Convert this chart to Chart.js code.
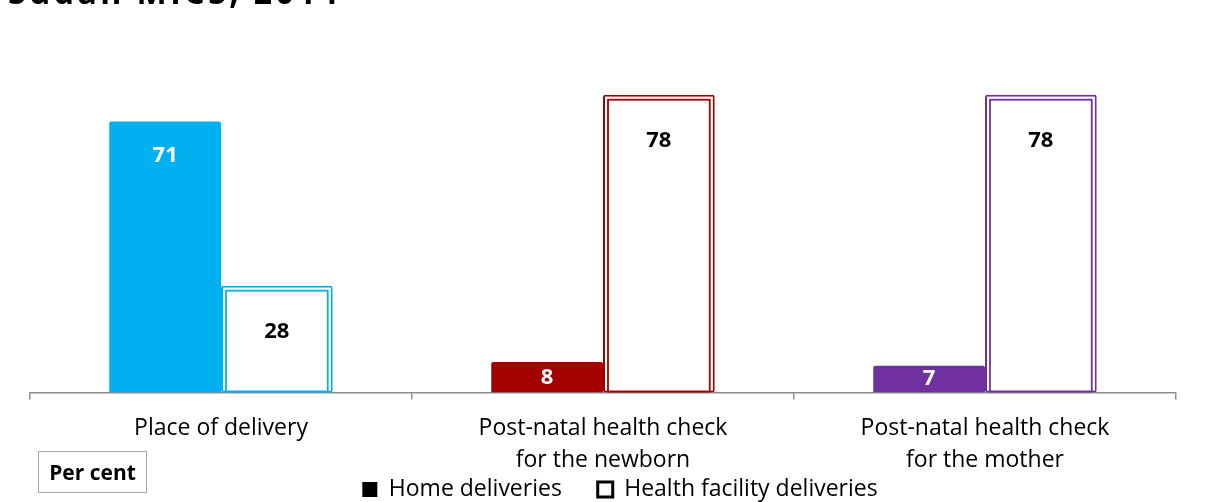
<!DOCTYPE html>
<html lang="en">
<head>
    <meta charset="UTF-8">
    <title>Delivery and post-natal checks</title>
    <script src="https://cdn.jsdelivr.net/npm/chart.js"></script>
    <style>
        body { margin: 0; background: #fff; font-family: "Open Sans", sans-serif; }
        #wrap { position: relative; width: 1206px; height: 502px; overflow: hidden; }
        #title { position: absolute; left: 8px; top: -28px; font-size: 32px; font-weight: bold; letter-spacing: 3.5px; line-height: 40px; white-space: nowrap; }
        #unit { position: absolute; left: 38px; top: 451px; width: 107px; height: 40px; border: 1.5px solid #a6a6a6;
                font-size: 21px; font-weight: bold; line-height: 40px; text-align: center; }
    </style>
</head>
<body>
<div id="wrap">
    <canvas id="chart" width="1206" height="502"></canvas>
    <div id="title">Sudan MICS, 2014</div>
    <div id="unit">Per cent</div>
</div>
<script>
const categories = [
    'Place of delivery',
    ['Post-natal health check', 'for the newborn'],
    ['Post-natal health check', 'for the mother']
];
const homeDeliveries = [71, 8, 7];
const facilityDeliveries = [28, 78, 78];
const seriesNames = ['Home deliveries', 'Health facility deliveries'];
const colours = ['#00b0f0', '#a50000', '#7030a0'];

// inner line of the double border + value labels
const extras = {
    id: 'extras',
    afterLayout(chart) {
        // nudge the legend to sit where the original one is
        chart.legend.left += 17;
        chart.legend.right += 17;
        chart.legend.top -= 12;
        chart.legend.bottom -= 12;
    },
    afterDatasetsDraw(chart) {
        const ctx = chart.ctx;
        ctx.save();
        chart.getDatasetMeta(1).data.forEach((bar, i) => {
            const p = bar.getProps(['x', 'y', 'base', 'width'], true);
            const l = p.x - p.width / 2 + 5, r = p.x + p.width / 2 - 5;
            ctx.strokeStyle = colours[i];
            ctx.lineWidth = 1.8;
            ctx.strokeRect(l, p.y + 5, r - l, p.base - p.y - 6);
        });
        ctx.font = 'bold 22px "Open Sans", sans-serif';
        ctx.textAlign = 'center';
        ctx.textBaseline = 'middle';
        chart.data.datasets.forEach((ds, d) => {
            chart.getDatasetMeta(d).data.forEach((bar, i) => {
                const p = bar.getProps(['x', 'y', 'base'], true);
                const h = p.base - p.y;
                const y = h > 60 ? p.y + (d === 0 ? 34 : 46) : p.y + h / 2;
                ctx.fillStyle = d === 0 ? '#fff' : '#000';
                ctx.fillText(ds.data[i], p.x, y);
            });
        });
        ctx.restore();
    }
};

new Chart(document.getElementById('chart'), {
    type: 'bar',
    data: {
        labels: categories,
        datasets: [{
            label: seriesNames[0] + '      ',
            data: homeDeliveries,
            backgroundColor: colours,
            borderWidth: 0,
            borderRadius: 2,
            borderSkipped: 'bottom'
        }, {
            label: seriesNames[1],
            data: facilityDeliveries,
            backgroundColor: '#fff',
            borderColor: colours,
            borderWidth: 2,
            borderRadius: 2,
            borderSkipped: false
        }]
    },
    options: {
        responsive: false,
        animation: false,
        layout: { padding: { left: 30, right: 30, top: 68, bottom: -21 } },
        datasets: { bar: { barPercentage: 1, categoryPercentage: 0.585 } },
        scales: {
            x: {
                grid: { offset: true, drawOnChartArea: false, drawTicks: true, tickLength: 7, color: '#8c8c8c', lineWidth: 1.5 },
                border: { display: true, color: '#8c8c8c', width: 1.5 },
                ticks: { color: '#000', padding: 13, font: { family: 'Open Sans', size: 23, lineHeight: 1.4 } }
            },
            y: { display: false, min: 0, max: 85 }
        },
        plugins: {
            tooltip: { enabled: false },
            legend: {
                position: 'bottom',
                labels: {
                    color: '#000',
                    font: { family: 'Open Sans', size: 23 },
                    boxWidth: 15,
                    boxHeight: 15,
                    padding: 0,
                    generateLabels: chart => chart.data.datasets.map((ds, i) => ({
                        text: ds.label,
                        fillStyle: i === 0 ? '#000' : '#fff',
                        strokeStyle: '#000',
                        lineWidth: i === 0 ? 0 : 3,
                        datasetIndex: i
                    }))
                }
            }
        }
    },
    plugins: [extras]
});
</script>
</body>
</html>
